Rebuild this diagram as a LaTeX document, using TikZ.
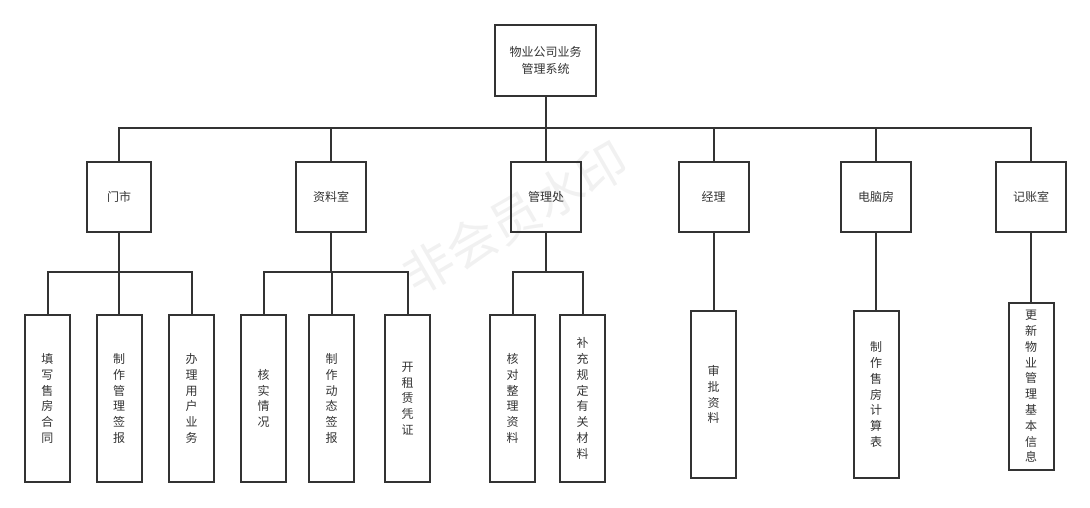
\documentclass[tikz,border=0pt]{standalone}
\usepackage{fontspec}
\setmainfont{Noto Sans CJK SC}
\usetikzlibrary{positioning}
\definecolor{ink}{HTML}{333333}

\begin{document}
\begin{tikzpicture}[x=1pt, y=-1pt, line width=2pt, color=ink,
          every node/.style={inner sep=0pt, font=\fontsize{12}{17}\selectfont},
          topbox/.style={draw, minimum width=101pt, minimum height=71pt, align=center},
          deptbox/.style={draw, minimum height=70pt},
          leafbox/.style={draw, minimum width=45pt, minimum height=167pt, align=center,
                          font=\fontsize{12}{15.8}\selectfont}]
        \useasboundingbox (0,0) rectangle (1090,507);
        % faint watermark, behind the boxes
        \node[rotate=30, text=gray!11, font=\fontsize{50}{50}\selectfont] (wm) at (515,218) {非会员水印};
        % bus rails: level 1 at y = 128, level 2 at y = 272
        \coordinate (bus) at (0,128);
        \coordinate (sub) at (0,272);
        \node[topbox] (root) at (545.5,60) {物业公司业务\\管理系统};
        % departments
        \foreach \n/\x/\w/\t in {d1/119/64/门市, d2/331/70/资料室, d3/546/70/管理处,
                                 d4/713.5/70/经理, d5/876/70/电脑房, d6/1031/70/记账室} {
          \node[deptbox, minimum width=\w pt] (\n) at (\x,196.5) {\t};
          \draw (root.south) -- (root.south |- bus) -| (\n.north);
        }
        % tasks
        \foreach \n/\x/\y/\t in {l1/47.5/398.5/{填\\写\\售\\房\\合\\同},
                                 l2/119/398.5/{制\\作\\管\\理\\签\\报},
                                 l3/191.5/398.5/{办\\理\\用\\户\\业\\务},
                                 l4/263.5/398.5/{核\\实\\情\\况},
                                 l5/331.5/398.5/{制\\作\\动\\态\\签\\报},
                                 l6/407.5/398.5/{开\\租\\赁\\凭\\证},
                                 l7/512.5/398.5/{核\\对\\整\\理\\资\\料},
                                 l8/582.5/398.5/{补\\充\\规\\定\\有\\关\\材\\料},
                                 l9/713.5/394.5/{审\\批\\资\\料},
                                 l10/876/394.5/{制\\作\\售\\房\\计\\算\\表},
                                 l11/1031/386.5/{更\\新\\物\\业\\管\\理\\基\\本\\信\\息}}
          \node[leafbox] (\n) at (\x,\y) {\t};
        \foreach \p/\c in {d1/l1, d1/l2, d1/l3, d2/l4, d2/l5, d2/l6, d3/l7, d3/l8}
          \draw (\p.south) -- (\p.south |- sub) -| (\c.north);
        \draw (d4.south) -- (l9.north);
        \draw (d5.south) -- (l10.north);
        \draw (d6.south) -- (l11.north);
      \end{tikzpicture}
\end{document}
